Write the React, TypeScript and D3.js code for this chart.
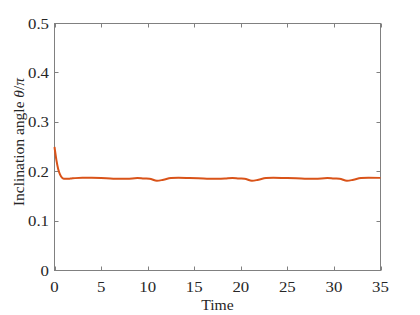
import { useEffect, useRef } from "react";
import * as d3 from "d3";

// time samples and inclination angle (in units of pi)
const timeValues = [
  0, 0.2, 0.4, 0.6, 0.8, 1.0, 1.3, 1.7, 2.2, 3, 4, 5, 6, 7, 7.8, 8.9, 9.6, 10.2, 11.0, 11.7, 12.5,
  13.3, 14.5, 16, 17.5, 18.3, 19.1, 19.8, 20.4, 21.2, 21.9, 22.7, 23.5, 25, 26.5, 28, 29.3, 30,
  30.6, 31.4, 32.1, 32.9, 33.7, 35,
];
const angleValues = [
  0.25, 0.224, 0.205, 0.194, 0.188, 0.1858, 0.1855, 0.186, 0.187, 0.1878, 0.1876, 0.187, 0.1862,
  0.1855, 0.1855, 0.1872, 0.1862, 0.1858, 0.1815, 0.1838, 0.1872, 0.1878, 0.1872, 0.1862, 0.1855,
  0.186, 0.1872, 0.1862, 0.1858, 0.1815, 0.1838, 0.1872, 0.1878, 0.1872, 0.1862, 0.1855, 0.1872,
  0.1862, 0.1858, 0.1815, 0.1838, 0.1872, 0.1878, 0.1875,
];
const xTicks = [0, 5, 10, 15, 20, 25, 30, 35];
const yTicks = [0, 0.1, 0.2, 0.3, 0.4, 0.5];

export default function App() {
  const ref = useRef<SVGSVGElement>(null);

  useEffect(() => {
    const svg = d3.select(ref.current);
    svg.selectAll("*").remove();

    const left = 54.5, right = 380.5, top = 23.5, bottom = 270.5;
    const x = d3.scaleLinear().domain([0, 35]).range([left, right]);
    const y = d3.scaleLinear().domain([0, 0.5]).range([bottom, top]);
    const font = "'Liberation Serif', 'Times New Roman', serif";
    const axisColor = "#808080";
    const textColor = "#262626";
    const tickLen = 4;

    // box
    svg
      .append("rect")
      .attr("x", left)
      .attr("y", top)
      .attr("width", right - left)
      .attr("height", bottom - top)
      .attr("fill", "none")
      .attr("stroke", axisColor)
      .attr("stroke-width", 1);

    // ticks (inward, mirrored on top and right)
    const tg = svg.append("g").attr("stroke", axisColor).attr("stroke-width", 1);
    xTicks.forEach(t => {
      const px = Math.round(x(t)) + 0.5;
      tg.append("line").attr("x1", px).attr("x2", px).attr("y1", bottom).attr("y2", bottom - tickLen);
      tg.append("line").attr("x1", px).attr("x2", px).attr("y1", top).attr("y2", top + tickLen);
    });
    yTicks.forEach(t => {
      const py = Math.round(y(t) - 0.5) + 0.5;
      tg.append("line").attr("x1", left).attr("x2", left + tickLen).attr("y1", py).attr("y2", py);
      tg.append("line").attr("x1", right).attr("x2", right - tickLen).attr("y1", py).attr("y2", py);
    });

    // tick labels (slightly widened glyphs like the original)
    svg
      .append("g")
      .selectAll("text")
      .data(xTicks)
      .enter()
      .append("text")
      .attr("transform", d => `translate(${x(d)}, 291.5) scale(1.2, 1)`)
      .attr("text-anchor", "middle")
      .attr("font-family", font)
      .attr("font-size", 14)
      .attr("fill", textColor)
      .text(d => String(d));

    svg
      .append("g")
      .selectAll("text")
      .data(yTicks)
      .enter()
      .append("text")
      .attr("transform", d => `translate(49, ${y(d) + 5}) scale(1.2, 1)`)
      .attr("text-anchor", "end")
      .attr("font-family", font)
      .attr("font-size", 14)
      .attr("fill", textColor)
      .text(d => (d === 0 ? "0" : d.toFixed(1)));

    // axis labels
    svg
      .append("text")
      .attr("transform", `translate(${(left + right) / 2}, 309.5) scale(1.12, 1)`)
      .attr("text-anchor", "middle")
      .attr("font-family", font)
      .attr("font-size", 14)
      .attr("fill", textColor)
      .text("Time");

    const yl = svg
      .append("text")
      .attr("transform", `translate(23.5, 142) rotate(-90)`)
      .attr("text-anchor", "middle")
      .attr("font-family", font)
      .attr("font-size", 15.5)
      .attr("fill", textColor);
    yl.append("tspan").text("Inclination angle ");
    yl.append("tspan").attr("font-style", "italic").text("θ");
    yl.append("tspan").text("/");
    yl.append("tspan").attr("font-style", "italic").text("π");

    // data line
    const pts = timeValues.map((t, i) => [t, angleValues[i]] as [number, number]);
    const line = d3
      .line<[number, number]>()
      .x(d => x(d[0]))
      .y(d => y(d[1]))
      .curve(d3.curveMonotoneX);
    svg
      .append("path")
      .datum(pts)
      .attr("fill", "none")
      .attr("stroke", "#D95319")
      .attr("stroke-width", 2)
      .attr("d", line);
  }, []);

  return (
    <svg
      ref={ref}
      width={420}
      height={315}
      style={{ position: "absolute", left: 0, top: 0, background: "#fff" }}
    />
  );
}
